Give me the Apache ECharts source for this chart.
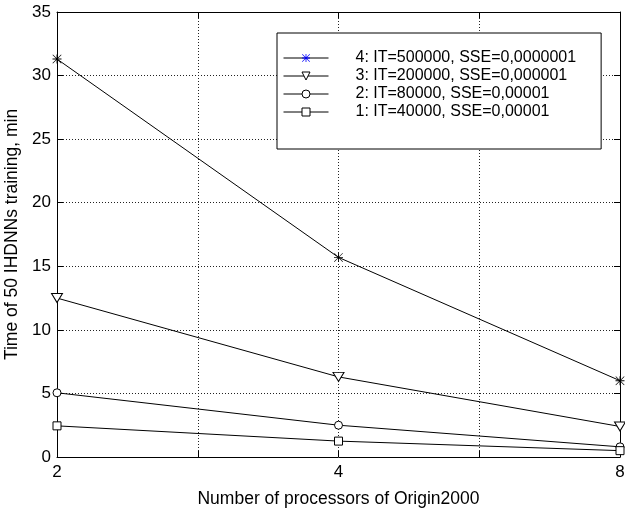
<!DOCTYPE html>
<html>
<head>
<meta charset="utf-8">
<script src="https://cdn.jsdelivr.net/npm/echarts@6/dist/echarts.min.js"></script>
<style>
html,body{margin:0;padding:0;background:#fff;}
#chart{width:625px;height:508px;}
</style>
</head>
<body>
<div id="chart"></div>
<script>
// Data
var processors = [2, 4, 8];
var xTickLabels = ['2', '4', '8'];
var seriesNames = [
  '4: IT=500000, SSE=0,0000001',
  '3: IT=200000, SSE=0,000001',
  '2: IT=80000, SSE=0,00001',
  '1: IT=40000, SSE=0,00001'
];
var time4 = [31.3, 15.7, 6.0];
var time3 = [12.5, 6.3, 2.4];
var time2 = [5.05, 2.5, 0.8];
var time1 = [2.45, 1.25, 0.5];
var yTicks = [0, 5, 10, 15, 20, 25, 30, 35];

var FONT = 'Liberation Sans, Arial, sans-serif';
var starPath = 'path://M0 9 L20 9 L20 11 L0 11 Z M9 0 L11 0 L11 20 L9 20 Z M1 0 L20 19 L19 20 L0 1 Z M19 0 L20 1 L1 20 L0 19 Z';

function pts(vals) {
  return processors.map(function (p, i) { return [Math.log2(p), vals[i]]; });
}
function tickLabel(v) {
  if (Math.abs(v - Math.round(v)) > 1e-9) return '';
  var idx = processors.map(function (p) { return Math.log2(p); }).indexOf(Math.round(v));
  return idx < 0 ? '' : xTickLabels[idx];
}

var lineBase = {
  type: 'line',
  xAxisIndex: 0,
  yAxisIndex: 0,
  lineStyle: { color: '#000', width: 1 },
  itemStyle: { color: '#fff', borderColor: '#000', borderWidth: 1 },
  emphasis: { disabled: true },
  animation: false,
  z: 5
};

var series = [
  Object.assign({}, lineBase, {
    name: seriesNames[0], data: pts(time4), symbol: starPath, symbolSize: 9,
    itemStyle: { color: '#000', borderWidth: 0 }
  }),
  Object.assign({}, lineBase, {
    name: seriesNames[1], data: pts(time3), symbol: 'triangle', symbolRotate: 180, symbolSize: [11, 9]
  }),
  Object.assign({}, lineBase, {
    name: seriesNames[2], data: pts(time2), symbol: 'circle', symbolSize: 8
  }),
  Object.assign({}, lineBase, {
    name: seriesNames[3], data: pts(time1), symbol: 'rect', symbolSize: 8
  })
];

var gridLine = { show: true, lineStyle: { color: '#222', width: 1, type: [1, 2] } };
var legLine = { width: 1, color: '#000' };
var legItem = { color: '#fff', borderColor: '#000', borderWidth: 1 };

var option = {
  backgroundColor: '#fff',
  animation: false,
  textStyle: { fontFamily: FONT },
  grid: { left: 57, top: 12, right: 5, bottom: 51, containLabel: false, outerBoundsMode: 'none' },
  legend: {
    show: true,
    orient: 'vertical',
    left: 277,
    top: 33,
    data: [
      { name: seriesNames[0], itemStyle: { color: '#0000ff', borderWidth: 0 }, lineStyle: legLine },
      { name: seriesNames[1], itemStyle: legItem, lineStyle: legLine },
      { name: seriesNames[2], itemStyle: legItem, lineStyle: legLine },
      { name: seriesNames[3], itemStyle: legItem, lineStyle: legLine }
    ],
    lineStyle: legLine,
    itemWidth: 45,
    itemHeight: 10,
    itemGap: 0,
    padding: [16, 25, 28, 6],
    backgroundColor: '#fff',
    borderColor: '#000',
    borderWidth: 1,
    borderRadius: 0,
    selectedMode: false,
    textStyle: { fontFamily: FONT, fontSize: 16, color: '#000', lineHeight: 18, padding: [0, 0, 0, 22] }
  },
  xAxis: [{
    type: 'value',
    min: 1, max: 3, interval: 0.5,
    name: 'Number of processors of Origin2000',
    nameLocation: 'middle',
    nameGap: 33,
    nameTextStyle: { fontFamily: FONT, fontSize: 17.5, color: '#000' },
    axisLine: { show: true, onZero: false, lineStyle: { color: '#000', width: 1 } },
    axisTick: { show: true, inside: true, length: 6, lineStyle: { color: '#000' } },
    axisLabel: {
      show: true, margin: 7, fontFamily: FONT, fontSize: 17, color: '#000',
      formatter: tickLabel
    },
    splitLine: gridLine
  }, {
    type: 'value', position: 'top',
    min: 1, max: 3, interval: 0.5,
    axisLine: { show: true, onZero: false, lineStyle: { color: '#000', width: 1 } },
    axisTick: { show: true, inside: true, length: 6, lineStyle: { color: '#000' } },
    axisLabel: { show: false },
    splitLine: { show: false }
  }],
  yAxis: [{
    type: 'value',
    min: yTicks[0], max: yTicks[yTicks.length - 1], interval: yTicks[1] - yTicks[0],
    name: 'Time of 50 IHDNNs training, min',
    nameLocation: 'middle',
    nameGap: 30,
    nameRotate: 90,
    nameTextStyle: { fontFamily: FONT, fontSize: 17.5, color: '#000' },
    axisLine: { show: true, onZero: false, lineStyle: { color: '#000', width: 1 } },
    axisTick: { show: true, inside: true, length: 6, lineStyle: { color: '#000' } },
    axisLabel: { show: true, margin: 6, fontFamily: FONT, fontSize: 17, color: '#000' },
    splitLine: gridLine
  }, {
    type: 'value', position: 'right',
    min: yTicks[0], max: yTicks[yTicks.length - 1], interval: yTicks[1] - yTicks[0],
    axisLine: { show: true, onZero: false, lineStyle: { color: '#000', width: 1 } },
    axisTick: { show: true, inside: true, length: 6, lineStyle: { color: '#000' } },
    axisLabel: { show: false },
    splitLine: { show: false }
  }],
  series: series
};

var chart = echarts.init(document.getElementById('chart'), null, { renderer: 'canvas' });
chart.setOption(option);
</script>
</body>
</html>
